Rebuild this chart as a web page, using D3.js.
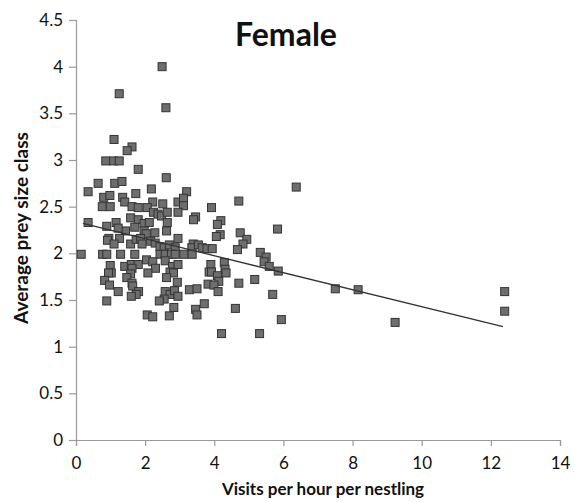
<!DOCTYPE html>
<html>
<head>
<meta charset="utf-8">
<script src="https://cdn.jsdelivr.net/npm/d3@7"></script>
<style>
  body { margin: 0; background: #fff; }
  svg { display: block; font-family: Lato, "Open Sans", sans-serif; }
</style>
</head>
<body>
<div id="vis"></div>
<script>
// Visits per hour per nestling (x) and average prey size class (y)
const visits = [
  2.49, 1.25, 2.60, 1.10, 1.62, 1.48, 0.86, 1.09, 1.25, 1.80,
  2.61, 0.64, 1.12, 1.33, 0.35, 2.18, 3.20, 1.73, 0.80, 0.98,
  1.35, 1.41, 2.22, 2.51, 2.95, 3.11, 3.11, 0.76, 0.99, 1.62,
  1.80, 2.06, 2.24, 2.37, 2.47, 2.64, 2.95, 1.58, 1.80, 0.35,
  0.89, 1.16, 1.97, 2.12, 1.70, 1.43, 1.22, 2.28, 1.97, 2.03,
  2.64, 2.62, 0.95, 0.91, 1.26, 1.10, 1.58, 1.74, 1.87, 1.91,
  2.16, 2.29, 2.43, 2.55, 2.70, 2.87, 2.95, 3.39, 3.35, 0.15,
  0.77, 0.89, 1.29, 1.70, 2.43, 2.58, 2.76, 2.87, 3.12, 3.36,
  0.99, 1.02, 0.94, 1.41, 1.60, 1.80, 1.62, 1.58, 2.04, 2.22,
  2.30, 2.08, 2.58, 2.79, 2.95, 2.72, 2.82, 2.62, 1.47, 0.83,
  0.97, 1.62, 1.64, 2.93, 1.22, 1.81, 1.74, 1.60, 2.58, 2.72,
  2.85, 2.95, 2.55, 2.41, 3.28, 3.50, 0.89, 2.83, 3.46, 3.50,
  2.06, 2.22, 2.70, 6.37, 4.71, 3.92, 3.46, 3.40, 4.19, 4.09,
  5.83, 4.75, 4.17, 4.06, 4.94, 4.83, 4.67, 3.54, 3.65, 3.79,
  3.94, 5.33, 5.50, 5.44, 5.59, 5.85, 3.90, 4.29, 3.85, 3.92,
  4.31, 4.34, 4.09, 4.13, 3.82, 3.99, 4.11, 4.71, 5.17, 3.71,
  4.61, 5.69, 5.94, 4.21, 5.31, 7.50, 8.16, 9.23, 12.40, 12.40
];
const preySize = [
  4.00, 3.71, 3.56, 3.22, 3.14, 3.10, 2.99, 2.99, 2.99, 2.90,
  2.81, 2.75, 2.75, 2.77, 2.66, 2.69, 2.66, 2.64, 2.60, 2.62,
  2.60, 2.55, 2.55, 2.53, 2.55, 2.59, 2.51, 2.50, 2.50, 2.50,
  2.49, 2.49, 2.44, 2.42, 2.40, 2.44, 2.44, 2.38, 2.36, 2.33,
  2.29, 2.33, 2.32, 2.33, 2.28, 2.24, 2.27, 2.22, 2.24, 2.21,
  2.33, 2.24, 2.16, 2.14, 2.16, 2.10, 2.10, 2.15, 2.16, 2.10,
  2.13, 2.11, 2.07, 2.06, 2.09, 2.06, 2.16, 2.10, 2.06, 1.99,
  1.99, 1.99, 1.99, 1.99, 1.99, 1.99, 1.99, 1.99, 1.99, 1.99,
  1.87, 1.79, 1.79, 1.86, 1.88, 1.88, 1.84, 1.78, 1.93, 1.91,
  1.84, 1.79, 1.92, 1.86, 1.88, 1.80, 1.79, 1.74, 1.74, 1.71,
  1.66, 1.68, 1.65, 1.69, 1.59, 1.59, 1.56, 1.54, 1.59, 1.56,
  1.60, 1.54, 1.51, 1.49, 1.61, 1.62, 1.49, 1.42, 1.40, 1.34,
  1.34, 1.32, 1.33, 2.71, 2.56, 2.49, 2.39, 2.36, 2.35, 2.31,
  2.26, 2.22, 2.20, 2.18, 2.15, 2.10, 2.04, 2.09, 2.06, 2.05,
  2.05, 2.01, 1.96, 1.91, 1.86, 1.81, 1.88, 1.90, 1.80, 1.80,
  1.83, 1.79, 1.76, 1.70, 1.67, 1.66, 1.59, 1.68, 1.72, 1.46,
  1.41, 1.56, 1.29, 1.14, 1.14, 1.62, 1.61, 1.26, 1.59, 1.38
];
// fitted trend line end points [x, y]
const trendLine = [[0.2, 2.32], [12.35, 1.215]];

const xTicks = [0, 2, 4, 6, 8, 10, 12, 14];
const yTicks = [0, 0.5, 1, 1.5, 2, 2.5, 3, 3.5, 4, 4.5];

const width = 575;
const height = 502;
const margin = { top: 20, right: 15, bottom: 62, left: 76 };

const svg = d3.select("#vis")
  .append("svg")
  .attr("width", width)
  .attr("height", height);

const xScale = d3.scaleLinear()
  .domain([0, 14])
  .range([margin.left, width - margin.right]);

const yScale = d3.scaleLinear()
  .domain([0, 4.5])
  .range([height - margin.bottom, margin.top]);

// Axes
const xAxis = svg.append("g")
  .attr("transform", `translate(0,${height - margin.bottom})`)
  .call(d3.axisBottom(xScale).tickValues(xTicks).tickSize(6).tickPadding(11).tickFormat(d3.format("d")));

const yAxis = svg.append("g")
  .attr("transform", `translate(${margin.left},0)`)
  .call(d3.axisLeft(yScale).tickValues(yTicks).tickSize(7).tickPadding(6).tickFormat(d => String(d)));

[xAxis, yAxis].forEach(ax => {
  ax.select(".domain").attr("stroke", "#9a9a9a").attr("stroke-width", 1.2);
  ax.selectAll(".tick line").attr("stroke", "#9a9a9a").attr("stroke-width", 1.2);
  ax.selectAll(".tick text")
    .attr("fill", "#111")
    .attr("font-size", "17px")
    .attr("font-family", "Lato, sans-serif");
});

// Points
const points = visits.map((v, i) => ({ x: v, y: preySize[i] }));
const sz = 8;

svg.append("g")
  .selectAll("rect")
  .data(points)
  .enter()
  .append("rect")
  .attr("x", d => xScale(d.x) - sz / 2)
  .attr("y", d => yScale(d.y) - sz / 2)
  .attr("width", sz)
  .attr("height", sz)
  .attr("fill", "#6e6e6e")
  .attr("stroke", "#333")
  .attr("stroke-width", 1);

// Trend line
svg.append("path")
  .datum(trendLine)
  .attr("d", d3.line().x(d => xScale(d[0])).y(d => yScale(d[1])))
  .attr("fill", "none")
  .attr("stroke", "#333")
  .attr("stroke-width", 1.3);

// Title
svg.append("text")
  .attr("x", 286)
  .attr("y", 46)
  .attr("text-anchor", "middle")
  .attr("font-size", "32px")
  .attr("font-weight", "bold")
  .attr("fill", "#111")
  .text("Female");

// Axis labels
svg.append("text")
  .attr("x", 323)
  .attr("y", 495)
  .attr("text-anchor", "middle")
  .attr("font-size", "17px")
  .attr("font-weight", "bold")
  .attr("fill", "#111")
  .text("Visits per hour per nestling");

svg.append("text")
  .attr("transform", "rotate(-90)")
  .attr("x", -228)
  .attr("y", 28)
  .attr("text-anchor", "middle")
  .attr("font-size", "19px")
  .attr("font-weight", "bold")
  .attr("fill", "#111")
  .text("Average prey size class");
</script>
</body>
</html>
